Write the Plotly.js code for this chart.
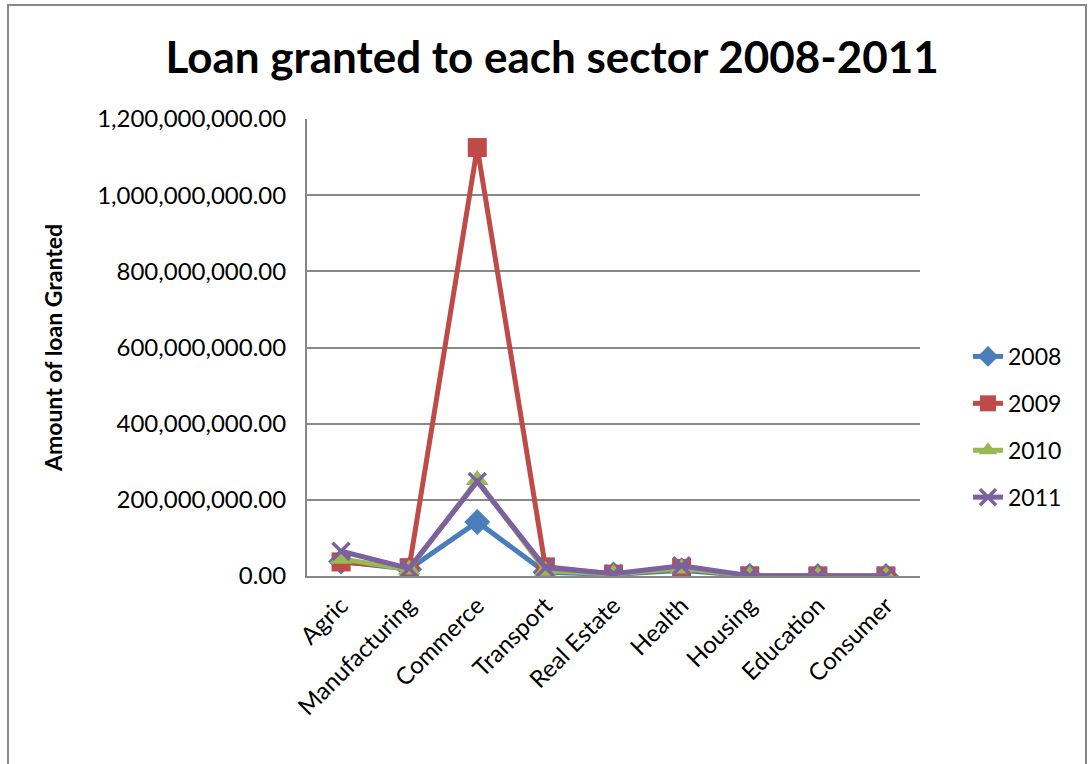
<!DOCTYPE html>
<html>
<head>
<meta charset="utf-8">
<script src="https://cdn.plot.ly/plotly-3.0.1.min.js"></script>
<style>html,body{margin:0;padding:0;background:#fff;}#chart{width:1089px;height:764px;}</style>
</head>
<body>
<div id="chart"></div>
<script>
const categories = ["Agric","Manufacturing","Commerce","Transport","Real Estate","Health","Housing","Education","Consumer"];
const y2008 = [38000000, 18000000, 142000000, 10000000, 4000000, 15000000, 500000, 300000, 300000];
const y2009 = [37000000, 22000000, 1125000000, 24000000, 5000000, 20000000, 500000, 300000, 300000];
const y2010 = [45000000, 17000000, 252000000, 14000000, 5000000, 20000000, 500000, 300000, 300000];
const y2011 = [65000000, 20000000, 248000000, 22000000, 6000000, 27000000, 500000, 300000, 300000];
const yTicks = [0, 200000000, 400000000, 600000000, 800000000, 1000000000, 1200000000];

const W = 1089, H = 764, L = 307, R = 920, T = 119, B = 576;
const px = x => (x - L) / (R - L);
const py = y => (B - y) / (B - T);

function tr(name, y, color, symbol, size, lg) {
  return {type: 'scatter', mode: 'lines+markers', name: name, x: categories, y: y,
    line: {color: color, width: 5}, legendgroup: lg,
    marker: {color: color, symbol: symbol, size: size,
      line: symbol === 'x-thin' ? {color: color, width: 3.5} : {width: 0}}};
}
const data = [
  tr('2008', y2008, '#4a7ebb', 'diamond', 20, 'a'),
  tr('2009', y2009, '#be4b48', 'square', 19, 'b'),
  tr('2010', y2010, '#98b954', 'triangle-up', 20, 'c'),
  tr('2011', y2011, '#7d60a0', 'x-thin', 17, 'd')
];
const layout = {
  width: W, height: H,
  margin: {l: L, r: W - R, t: T, b: H - B},
  paper_bgcolor: '#fff', plot_bgcolor: '#fff',
  font: {family: 'Lato, "Open Sans", sans-serif', color: '#000', size: 23},
  title: {text: '<b>Loan granted to each sector 2008-2011</b>', font: {size: 44, family: 'Lato, "Open Sans", sans-serif'}, x: 0.507, xanchor: 'center', y: 0.925, yanchor: 'middle'},
  xaxis: {type: 'category', tickangle: -45, showgrid: false, showline: true, linecolor: '#888', linewidth: 2,
    ticks: '', tickfont: {size: 24}, range: [-0.5, 8.5], zeroline: false, ticklabelstandoff: 4},
  yaxis: {range: [0, 1200000000], tickvals: yTicks, tickformat: ',.2f', showgrid: true, gridcolor: '#888', gridwidth: 1.5,
    showline: true, linecolor: '#888', linewidth: 2, zeroline: false, ticks: '', tickfont: {size: 24}, ticklabelstandoff: 14,
    title: {text: '<b>Amount of loan Granted</b>', font: {size: 23}, standoff: 28}},
  legend: {x: px(968), xanchor: 'left', y: py(427), yanchor: 'middle', font: {size: 23}, tracegroupgap: 14, bgcolor: 'rgba(0,0,0,0)'},
  shapes: [{type: 'rect', xref: 'paper', yref: 'paper', x0: px(8), x1: px(1086), y0: py(790), y1: py(5),
    line: {color: '#888', width: 2}, fillcolor: 'rgba(0,0,0,0)', layer: 'below'}]
};
Plotly.newPlot('chart', data, layout, {displayModeBar: false});
</script>
</body>
</html>
